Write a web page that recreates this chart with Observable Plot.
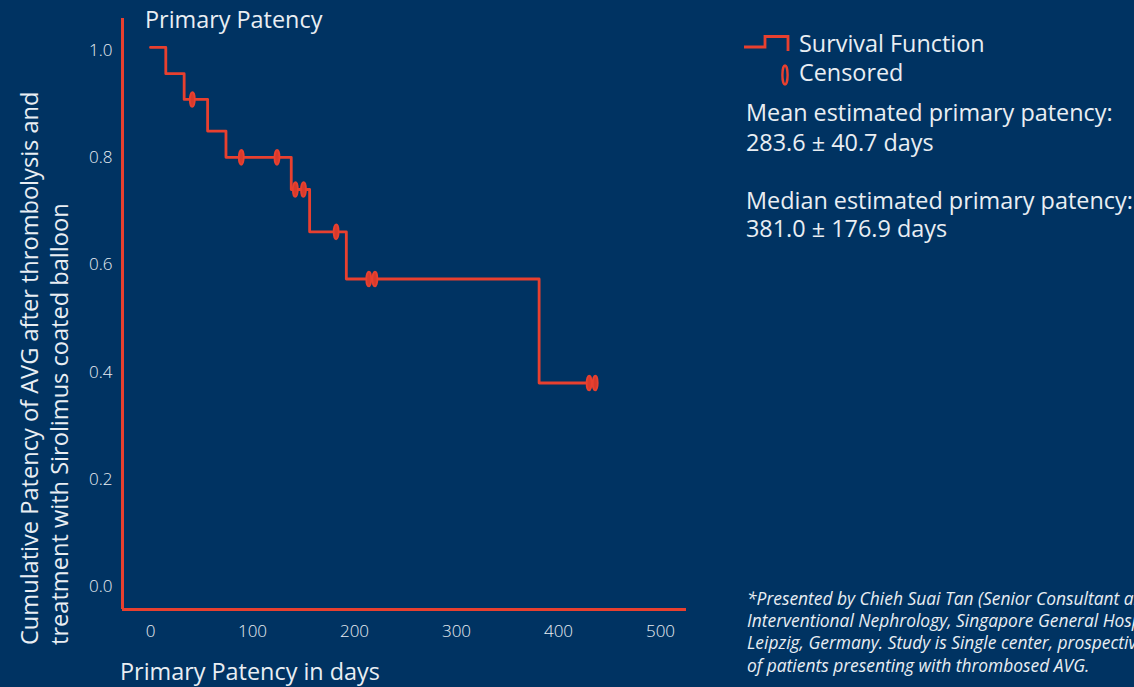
<!DOCTYPE html>
<html><head><meta charset="utf-8">
<script src="https://cdn.jsdelivr.net/npm/d3@7"></script>
<script src="https://cdn.jsdelivr.net/npm/@observablehq/plot@0.6"></script>
<style>
html,body{margin:0;padding:0;background:#003362;overflow:hidden;}
#wrap{position:relative;width:1134px;height:687px;background:#003362;overflow:hidden;font-family:"Open Sans",sans-serif;}
#chart{position:absolute;left:0;top:0;}
#overlay{position:absolute;left:0;top:0;pointer-events:none;}
</style></head>
<body><div id="wrap"><div id="chart"></div><svg id="overlay" width="1134" height="687"></svg></div>
<script>
// Kaplan–Meier step data
const eventDays = [0, 15, 33, 56, 74, 138, 156, 192, 381, 436];
const survival = [1.0, 0.951, 0.903, 0.844, 0.795, 0.735, 0.656, 0.568, 0.374, 0.374];
const censoredDays = [41, 89, 124, 142, 150, 182, 214, 220, 430, 436];
const xTicks = [0, 100, 200, 300, 400, 500];
const yTicks = [0, 0.2, 0.4, 0.6, 0.8, 1.0];

const titleText = "Primary Patency";
const xLabel = "Primary Patency in days";
const yLabelLines = ["Cumulative Patency of AVG after thrombolysis and", "treatment with Sirolimus coated balloon"];
const legendLabels = ["Survival Function", "Censored"];
const statLines = ["Mean estimated primary patency:", "283.6 ± 40.7 days", "Median estimated primary patency:", "381.0 ± 176.9 days"];
const footLines = [
  "*Presented by Chieh Suai Tan (Senior Consultant and Head of",
  "Interventional Nephrology, Singapore General Hospital) at LINC,",
  "Leipzig, Germany. Study is Single center, prospective, single arm trial",
  "of patients presenting with thrombosed AVG."
];

const RED = "#e8402f";
const TXT = "#e9eef3";

const stepRows = eventDays.map((d, i) => ({day: d, s: survival[i]}));
function survAt(t) {
  let v = survival[0];
  for (let i = 0; i < eventDays.length; i++) if (eventDays[i] <= t) v = survival[i];
  return v;
}
const censRows = censoredDays.map(d => ({day: d, s: survAt(d)}));

const ellipse = {
  draw(ctx, size) {
    const a = 2.5, b = 7.4, k = 0.5523;
    ctx.moveTo(a, 0);
    ctx.bezierCurveTo(a, b * k, a * k, b, 0, b);
    ctx.bezierCurveTo(-a * k, b, -a, b * k, -a, 0);
    ctx.bezierCurveTo(-a, -b * k, -a * k, -b, 0, -b);
    ctx.bezierCurveTo(a * k, -b, a, -b * k, a, 0);
    ctx.closePath();
  }
};

const xMin = -27.45, yMin = -0.0485;
const plot = Plot.plot({
  width: 700, height: 687,
  marginLeft: 122, marginRight: 14, marginTop: 18, marginBottom: 78,
  style: {background: "transparent", color: TXT, fontFamily: "Open Sans, sans-serif", fontSize: "17px"},
  x: {domain: [xMin, 525.5], label: null},
  y: {domain: [yMin, 1.054], label: null},
  marks: [
    Plot.axisX(xTicks, {tickSize: 0, tickPadding: 15, label: null, tickFormat: d => String(d), fontWeight: 300}),
    Plot.axisY(yTicks, {tickSize: 0, tickPadding: 10, label: null, tickFormat: d3.format(".1f"), dy: 3, fontWeight: 300}),
    Plot.ruleX([xMin], {stroke: RED, strokeWidth: 3}),
    Plot.ruleY([yMin], {stroke: RED, strokeWidth: 3}),
    Plot.line(stepRows, {x: "day", y: "s", curve: "step-after", stroke: RED, strokeWidth: 2.8}),
    Plot.dot(censRows, {x: "day", y: "s", symbol: ellipse, r: 4, stroke: RED, strokeWidth: 1.8, fill: "#d73a2c"})
  ]
});
document.getElementById("chart").appendChild(plot);

// Overlay texts and legend
const svg = d3.select("#overlay");
const F = "Open Sans, sans-serif";
function txt(x, y, s, size, opts = {}) {
  const t = svg.append("text").attr("x", x).attr("y", y).text(s)
    .attr("font-family", F).attr("font-size", size).attr("fill", TXT)
    .attr("font-weight", opts.weight || 400);
  if (opts.italic) t.attr("font-style", "italic");
  if (opts.anchor) t.attr("text-anchor", opts.anchor);
  if (opts.transform) t.attr("transform", opts.transform);
  return t;
}
txt(145, 28, titleText, 23.4);
txt(120, 680, xLabel, 23.4);
yLabelLines.forEach((s, i) => {
  const x = 38 + i * 30, y = 645;
  txt(x, y, s, 23.6, {transform: `rotate(-90 ${x} ${y})`});
});
// legend icons
svg.append("path").attr("d", "M744,47H765V36.5H788V51").attr("fill", "none").attr("stroke", RED).attr("stroke-width", 2.8);
svg.append("ellipse").attr("cx", 785).attr("cy", 75).attr("rx", 2.6).attr("ry", 9.5).attr("fill", "none").attr("stroke", RED).attr("stroke-width", 2.4);
txt(799, 52, legendLabels[0], 23.4);
txt(799, 81, legendLabels[1], 23.4);
const statY = [121, 151, 209, 237];
statLines.forEach((s, i) => txt(746, statY[i], s, 23.4));
const footY = [605, 627, 649, 672];
footLines.forEach((s, i) => txt(747, footY[i], s, 17.4, {italic: true, weight: 400}));
</script>
</body></html>
